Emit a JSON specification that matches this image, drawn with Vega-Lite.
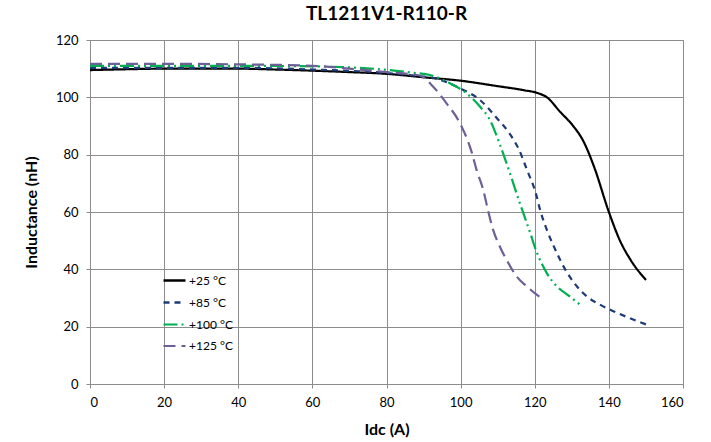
{
  "$schema": "https://vega.github.io/schema/vega-lite/v6.json",
  "width": 593,
  "height": 344,
  "autosize": {"type": "none"},
  "padding": {"left": 90, "top": 40, "right": 28, "bottom": 58},
  "background": "white",
  "title": {"text": "TL1211V1-R110-R", "font": "Lato", "fontSize": 19, "fontWeight": "bold", "color": "#000000", "offset": 10},
  "config": {
    "view": {"stroke": "#8c8c8c", "strokeWidth": 1},
    "axis": {"font": "Lato", "labelFont": "Lato", "titleFont": "Lato", "labelFontSize": 13, "labelColor": "#000", "titleColor": "#000", "titleFontSize": 16, "titleFontWeight": "bold", "gridColor": "#8c8c8c", "gridOpacity": 1, "gridWidth": 1, "domainColor": "#8c8c8c", "tickColor": "#8c8c8c", "tickSize": 4}
  },
  "data": {"values": [
    {"I": 0, "L": 109.5, "T": "+25 °C"},
    {"I": 10, "L": 109.8, "T": "+25 °C"},
    {"I": 20, "L": 110, "T": "+25 °C"},
    {"I": 30, "L": 110, "T": "+25 °C"},
    {"I": 40, "L": 110, "T": "+25 °C"},
    {"I": 50, "L": 109.7, "T": "+25 °C"},
    {"I": 60, "L": 109.3, "T": "+25 °C"},
    {"I": 70, "L": 108.8, "T": "+25 °C"},
    {"I": 80, "L": 108.2, "T": "+25 °C"},
    {"I": 90, "L": 107, "T": "+25 °C"},
    {"I": 100, "L": 105.8, "T": "+25 °C"},
    {"I": 110, "L": 103.9, "T": "+25 °C"},
    {"I": 117, "L": 102.5, "T": "+25 °C"},
    {"I": 121, "L": 101.4, "T": "+25 °C"},
    {"I": 123.3, "L": 100, "T": "+25 °C"},
    {"I": 126.8, "L": 95, "T": "+25 °C"},
    {"I": 130.5, "L": 89.8, "T": "+25 °C"},
    {"I": 133, "L": 85, "T": "+25 °C"},
    {"I": 136, "L": 75.8, "T": "+25 °C"},
    {"I": 140, "L": 60, "T": "+25 °C"},
    {"I": 143, "L": 50, "T": "+25 °C"},
    {"I": 146, "L": 43, "T": "+25 °C"},
    {"I": 150, "L": 36.3, "T": "+25 °C"},

    {"I": 0, "L": 110.3, "T": "+85 °C"},
    {"I": 20, "L": 110.3, "T": "+85 °C"},
    {"I": 40, "L": 110.3, "T": "+85 °C"},
    {"I": 60, "L": 109.7, "T": "+85 °C"},
    {"I": 80, "L": 108.5, "T": "+85 °C"},
    {"I": 88, "L": 107.5, "T": "+85 °C"},
    {"I": 93.5, "L": 106.5, "T": "+85 °C"},
    {"I": 99.8, "L": 103.2, "T": "+85 °C"},
    {"I": 105.2, "L": 99.1, "T": "+85 °C"},
    {"I": 109.8, "L": 92.7, "T": "+85 °C"},
    {"I": 113.4, "L": 87, "T": "+85 °C"},
    {"I": 115.8, "L": 81.6, "T": "+85 °C"},
    {"I": 117.9, "L": 74.7, "T": "+85 °C"},
    {"I": 120.3, "L": 66.5, "T": "+85 °C"},
    {"I": 121.6, "L": 60, "T": "+85 °C"},
    {"I": 123.3, "L": 53.7, "T": "+85 °C"},
    {"I": 126, "L": 45.6, "T": "+85 °C"},
    {"I": 128.2, "L": 40, "T": "+85 °C"},
    {"I": 131.4, "L": 34, "T": "+85 °C"},
    {"I": 134.1, "L": 30.5, "T": "+85 °C"},
    {"I": 137.7, "L": 27.6, "T": "+85 °C"},
    {"I": 141, "L": 25.5, "T": "+85 °C"},
    {"I": 145, "L": 23.3, "T": "+85 °C"},
    {"I": 150, "L": 20.8, "T": "+85 °C"},

    {"I": 0, "L": 111, "T": "+100 °C"},
    {"I": 20, "L": 111, "T": "+100 °C"},
    {"I": 40, "L": 111, "T": "+100 °C"},
    {"I": 60, "L": 110.8, "T": "+100 °C"},
    {"I": 80, "L": 109.6, "T": "+100 °C"},
    {"I": 87, "L": 108.6, "T": "+100 °C"},
    {"I": 91.7, "L": 107.8, "T": "+100 °C"},
    {"I": 97.1, "L": 104.9, "T": "+100 °C"},
    {"I": 101.6, "L": 101.4, "T": "+100 °C"},
    {"I": 105.2, "L": 96.8, "T": "+100 °C"},
    {"I": 107.9, "L": 92.1, "T": "+100 °C"},
    {"I": 110.6, "L": 83.5, "T": "+100 °C"},
    {"I": 112.4, "L": 77, "T": "+100 °C"},
    {"I": 116, "L": 63, "T": "+100 °C"},
    {"I": 118.8, "L": 52.6, "T": "+100 °C"},
    {"I": 120.3, "L": 46.8, "T": "+100 °C"},
    {"I": 123.3, "L": 38.6, "T": "+100 °C"},
    {"I": 126, "L": 34, "T": "+100 °C"},
    {"I": 128.7, "L": 31.3, "T": "+100 °C"},
    {"I": 132.3, "L": 27.6, "T": "+100 °C"},

    {"I": 0, "L": 111.7, "T": "+125 °C"},
    {"I": 20, "L": 111.7, "T": "+125 °C"},
    {"I": 40, "L": 111.5, "T": "+125 °C"},
    {"I": 60, "L": 111, "T": "+125 °C"},
    {"I": 70, "L": 110, "T": "+125 °C"},
    {"I": 80, "L": 108.8, "T": "+125 °C"},
    {"I": 89, "L": 107.6, "T": "+125 °C"},
    {"I": 92.6, "L": 103.7, "T": "+125 °C"},
    {"I": 96.2, "L": 97.9, "T": "+125 °C"},
    {"I": 99.8, "L": 91, "T": "+125 °C"},
    {"I": 103, "L": 80.8, "T": "+125 °C"},
    {"I": 104.3, "L": 74.7, "T": "+125 °C"},
    {"I": 106.1, "L": 67.7, "T": "+125 °C"},
    {"I": 107.5, "L": 60, "T": "+125 °C"},
    {"I": 108.8, "L": 53.7, "T": "+125 °C"},
    {"I": 110.6, "L": 47.9, "T": "+125 °C"},
    {"I": 112.4, "L": 43.3, "T": "+125 °C"},
    {"I": 115.2, "L": 37.4, "T": "+125 °C"},
    {"I": 117.9, "L": 34, "T": "+125 °C"},
    {"I": 122.4, "L": 29.3, "T": "+125 °C"}
  ]},
  "mark": {"type": "line", "interpolate": "monotone", "strokeWidth": 2.2},
  "encoding": {
    "x": {"field": "I", "type": "quantitative", "title": "Idc (A)", "scale": {"domain": [0, 160], "nice": false}, "axis": {"values": [0,20,40,60,80,100,120,140,160], "grid": true, "labelPadding": 8, "titlePadding": 12}},
    "y": {"field": "L", "type": "quantitative", "title": "Inductance (nH)", "scale": {"domain": [0, 120], "nice": false}, "axis": {"values": [0,20,40,60,80,100,120], "grid": true, "labelPadding": 8, "titlePadding": 16}},
    "color": {"field": "T", "type": "nominal", "scale": {"domain": ["+25 °C", "+85 °C", "+100 °C", "+125 °C"], "range": ["#000000", "#1f3a78", "#00b050", "#6f5f98"]},
      "legend": {"title": null, "orient": "none", "legendX": 72, "legendY": 228, "symbolType": "stroke", "symbolSize": 484, "symbolStrokeWidth": 2.5, "labelFont": "Lato", "labelFontSize": 12, "labelColor": "#000", "rowPadding": 3, "labelOffset": 2}},
    "strokeDash": {"field": "T", "type": "nominal", "scale": {"domain": ["+25 °C", "+85 °C", "+100 °C", "+125 °C"], "range": [[1, 0], [6, 5], [14, 4, 2, 4, 2, 4], [12, 6]]}},
    "strokeWidth": {"field": "T", "type": "nominal", "scale": {"domain": ["+25 °C", "+85 °C", "+100 °C", "+125 °C"], "range": [2.6, 2, 2.2, 2]}, "legend": null}
  }
}
